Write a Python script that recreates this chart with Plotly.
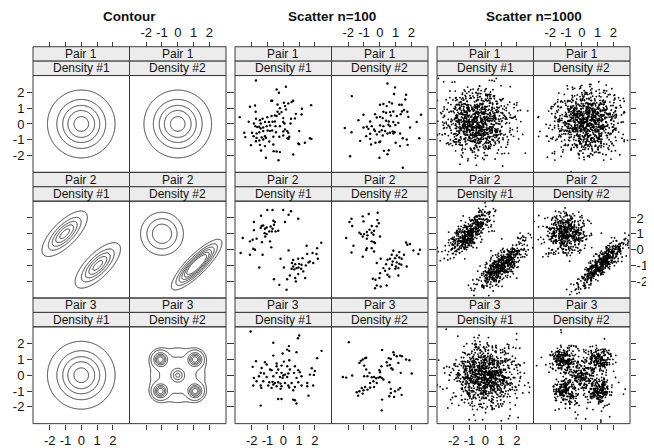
import numpy as np
import plotly.graph_objects as go

# ---------------- text ----------------
GROUP_TITLES = ["Contour", "Scatter n=100", "Scatter n=1000"]
PAIR_LABELS = ["Pair 1", "Pair 2", "Pair 3"]
DENSITY_LABELS = ["Density #1", "Density #2"]
TICK_VALUES = [-2, -1, 0, 1, 2]
TICK_LABELS = ["-2", "-1", "0", "1", "2"]
AXIS_RANGE = [-3.06, 3.06]

# ---------------- contour densities ----------------
# components: (weight, mean_x, mean_y, sd_x, sd_y, correlation)
DENS_P1_D1 = [(1.0, 0.0, 0.0, 1.0, 1.0, 0.0)]
DENS_P1_D2 = [(1.0, 0.0, 0.0, 1.0, 1.0, 0.0)]
DENS_P2_D1 = [(0.5, -1.05, 1.0, 0.67, 0.67, 0.72), (0.5, 1.05, -1.0, 0.67, 0.67, 0.72)]
DENS_P2_D2 = [(0.5, -1.0, 1.0, 0.82, 0.82, 0.0), (0.5, 1.2, -0.95, 0.78, 0.78, 0.85)]
DENS_P3_D1 = [(1.0, 0.0, 0.0, 1.0, 1.0, 0.0)]
DENS_P3_D2 = [(0.15, -1.1, 1.0, 0.25, 0.25, 0.0), (0.15, 1.1, 1.0, 0.25, 0.25, 0.0),
              (0.15, -1.1, -1.0, 0.25, 0.25, 0.0), (0.15, 1.1, -1.0, 0.25, 0.25, 0.0),
              (0.08, 0.0, 0.0, 0.25, 0.25, 0.0), (0.32, 0.0, 0.0, 0.9, 0.9, 0.0)]
# contour levels of each panel
LEVELS_P1_D1 = [0.016, 0.048, 0.080, 0.111, 0.143]
LEVELS_P1_D2 = [0.016, 0.048, 0.080, 0.111, 0.143]
LEVELS_P2_D1 = [0.0256, 0.0767, 0.128, 0.179, 0.230]
LEVELS_P2_D2 = [0.03, 0.06, 0.09, 0.12, 0.15, 0.18]
LEVELS_P3_D1 = [0.016, 0.048, 0.080, 0.111, 0.143]
LEVELS_P3_D2 = [0.01, 0.028, 0.10, 0.17, 0.24, 0.32]

# ---------------- Scatter n=100 (read point by point) ----------------
P1D1_X = [-1.73, 0.17, -0.42, -0.27, -0.76, -0.70, 0.53, 0.04, -0.36, 0.32, 0.11, 0.63, 1.77, -2.11, -1.79,
          -0.21, 0.17, 1.18, -0.36, -0.11, -0.25, -1.75, -2.76, 0.80, 1.16, -0.53, -0.42, -1.01, -0.74, -1.31,
          0.00, 0.49, 0.74, -2.19, -1.73, -1.86, -1.48, -1.43, -1.16, -0.91, -0.68, -0.53, 0.00, 0.08, 0.46,
          -1.77, -1.65, -1.52, -1.43, -1.27, -1.05, -0.84, -0.49, -0.21, 0.11, -2.47, -1.98, -1.69, -1.52, -1.27,
          -0.99, -0.84, -0.70, -0.46, 0.00, 0.25, 0.32, 1.01, -2.41, -1.88, -1.69, -1.37, -1.16, -1.10, -0.63,
          -0.25, 0.00, 0.27, 0.38, -1.52, -1.73, -1.27, -0.89, 0.34, 1.69, 1.79, -2.05, -1.48, -1.16, -0.63,
          0.95, 1.01, 1.37, -1.41, -0.61, -0.42, -0.21, 0.63, -1.10, -0.30]
P1D1_Y = [2.75, 2.35, 2.18, 1.97, 1.47, 1.47, 1.38, 1.34, 1.23, 1.30, 1.13, 1.47, 1.19, 1.09, 1.17,
          1.00, 0.92, 0.96, 0.77, 0.75, 0.64, 0.77, 0.43, 0.64, 0.60, 0.54, 0.50, 0.43, 0.50, 0.33,
          0.37, 0.33, 0.35, 0.14, 0.33, 0.03, 0.24, 0.03, 0.12, 0.12, 0.14, 0.16, 0.12, 0.03, 0.03,
          -0.14, -0.20, -0.18, -0.28, -0.22, -0.14, -0.09, -0.14, -0.14, -0.35, -0.56, -0.56, -0.60, -0.52, -0.45,
          -0.41, -0.45, -0.41, -0.52, -0.47, -0.45, -0.56, -0.45, -0.83, -0.77, -0.88, -0.85, -0.77, -0.88, -0.81,
          -0.81, -0.73, -0.90, -0.81, -1.04, -1.09, -0.98, -1.11, -0.94, -0.90, -0.94, -1.34, -1.32, -1.40, -1.30,
          -1.23, -1.28, -1.19, -1.68, -1.72, -1.74, -1.78, -1.93, -2.14, -2.29]

P1D2_X = [0.49, 0.97, -1.77, 0.91, 1.67, 0.02, 0.23, 0.61, 0.78, 0.44, 1.24, 1.39, 1.62, -1.03, -0.30,
          0.23, 0.40, 0.65, 0.86, 1.41, 1.54, 1.75, 2.62, -0.19, 0.02, 0.19, 0.70, 1.08, 1.33, 1.81,
          -1.35, -0.61, 0.40, 0.57, 0.86, 1.18, 2.34, -0.82, -0.51, 0.02, 0.23, 0.55, 0.65, 0.99, 1.92,
          -2.22, -1.03, -0.72, -0.36, -0.30, -0.02, 0.13, 0.34, 0.65, 0.82, 0.86, 0.95, -1.79, -0.61, -0.19,
          0.19, 0.49, 1.29, -1.24, -0.86, -0.61, -0.27, -0.02, 0.02, 1.46, 1.71, 2.51, -0.55, 1.01, 1.77,
          1.29, 0.57, 0.27, 0.49, -1.88, -0.02, 1.46]
P1D2_Y = [2.56, 2.31, 1.76, 1.89, 1.85, 1.21, 1.26, 1.38, 1.30, 1.13, 1.21, 1.21, 1.55, 0.58, 0.62,
          0.77, 0.71, 0.75, 0.79, 0.79, 0.88, 0.77, 0.58, 0.41, 0.45, 0.37, 0.54, 0.50, 0.62, 0.45,
          0.24, 0.16, 0.20, 0.16, 0.12, 0.07, 0.12, -0.18, -0.14, -0.09, -0.14, -0.05, -0.14, -0.07, -0.22,
          -0.26, -0.22, -0.31, -0.35, -0.45, -0.50, -0.39, -0.45, -0.56, -0.47, -0.60, -0.52, -0.52, -0.62, -0.66,
          -0.73, -0.60, -0.60, -1.07, -0.77, -0.94, -1.19, -1.15, -1.11, -0.90, -0.98, -0.90, -1.30, -1.19, -1.32,
          -1.40, -1.66, -1.70, -1.91, -2.04, -2.14, -2.77]

P2D1_X = [-1.01, -0.68, 0.00, 0.49, 0.34, -1.41, 0.95, -0.63, -0.53, -1.86, -0.59, 0.11, -1.37, -1.27, -1.05,
          -1.16, -1.43, -0.80, -0.68, -0.32, -0.72, -0.89, -0.49, -1.18, -1.05, -1.86, -2.57, -2.11, -1.94, -1.69,
          -1.35, -0.84, -1.14, -0.76, -1.90, -1.79, -2.70, -2.11, -1.31, 1.48, 2.41, 2.15, 0.34, 1.86, 1.52,
          2.11, 2.19, 1.22, 0.95, -0.17, 0.63, 1.69, 1.90, 1.60, 0.55, 0.76, 1.01, 1.16, 1.43, 0.63,
          0.84, 0.53, 0.70, 0.97, 1.14, 0.04, -1.52, 1.27, 0.95, 0.42, 0.76, -0.59, 1.39, 0.25, 0.80,
          -0.25, 0.21]
P2D1_Y = [2.50, 2.50, 2.50, 2.42, 2.20, 2.14, 1.95, 1.82, 1.74, 1.74, 1.57, 1.74, 1.49, 1.53, 1.40,
          1.32, 1.36, 1.46, 1.32, 1.19, 1.15, 1.15, 1.15, 1.04, 0.98, 1.23, 0.73, 0.52, 0.62, 0.69,
          0.47, 0.52, 0.83, 0.14, 0.05, -0.01, -0.22, -0.33, -0.33, 0.24, 0.43, 0.09, -0.05, -0.22, -0.28,
          -0.28, -0.58, -0.54, -0.58, -0.58, -0.66, -0.75, -0.85, -0.81, -0.85, -0.92, -0.90, -0.96, -1.00, -1.07,
          -1.17, -1.21, -1.25, -1.13, -1.21, -1.13, -1.13, -1.38, -1.55, -1.64, -1.80, -1.87, -1.80, -1.87, -2.01,
          -2.23, -2.54]

P2D2_X = [-0.13, -0.70, -1.08, -1.79, -1.03, -1.92, -0.15, -0.06, -1.75, -0.51, -0.19, -0.36, -0.65, -0.82, -0.99,
          -1.20, -1.29, -1.08, -0.78, -0.51, -0.40, 0.02, -2.13, -0.82, -0.51, -0.36, -0.30, -1.67, -0.82, -0.86,
          -0.51, -1.79, -0.36, -1.08, 1.67, 1.92, 1.75, 2.13, 2.55, 2.45, 0.86, 1.24, 0.76, 1.08, 0.97,
          1.24, 1.39, 1.54, 0.65, 0.49, 0.82, 1.08, 1.24, 1.37, 1.71, 1.03, 1.18, 0.99, 0.78, 0.40,
          0.06, -0.19, 0.23, 0.61, 0.34, 0.02, 0.49, 0.61, -0.02, -0.27, -0.44, -0.19, -0.30, 0.44, 0.06,
          1.18]
P2D2_Y = [2.33, 2.25, 2.10, 1.95, 1.78, 1.74, 1.87, 1.66, 1.49, 1.49, 1.47, 1.19, 1.26, 1.11, 0.98,
          0.98, 1.07, 0.83, 0.90, 1.07, 0.94, 0.83, 0.73, 0.69, 0.52, 0.47, 0.41, 0.24, 0.09, -0.03,
          0.09, -0.18, -0.12, -0.45, 0.45, 0.35, 0.31, -0.05, -0.01, -0.28, -0.07, -0.16, -0.33, -0.37, -0.54,
          -0.50, -0.58, -0.33, -0.58, -0.64, -0.75, -0.81, -0.90, -0.96, -1.07, -1.07, -1.17, -1.21, -0.96, -0.92,
          -0.58, -0.85, -1.17, -1.21, -1.34, -1.49, -1.59, -1.72, -1.80, -1.91, -1.84, -2.27, -2.44, -2.27, -2.33,
          -1.64]

P3D1_X = [-2.07, 1.01, 0.93, -0.63, 0.36, 0.25, 0.38, -0.04, -0.63, 0.84, 2.43, 2.15, -1.73, -1.16, -1.05,
          -0.42, -0.11, 0.04, 0.38, -0.42, 0.25, 0.74, -1.94, -1.37, -0.84, -0.74, -0.32, 0.42, 0.95, 1.05,
          1.81, 2.00, -1.43, -1.22, -0.42, -0.11, 0.00, 0.11, 0.32, 0.68, 1.69, -1.86, -1.54, -1.05, -0.63,
          -0.21, -0.04, 0.25, 0.84, 1.16, 1.94, -1.69, -1.27, -0.89, -0.68, -0.53, -0.32, -0.17, 0.11, 0.53,
          0.95, 1.52, -1.90, -1.43, -0.95, -0.63, -0.42, -0.11, 0.32, 0.38, 0.74, 1.16, 1.52, 1.90, -1.39,
          -0.74, -0.17, 0.63, 1.60, -0.32, -0.11, 0.63, 0.74, 0.84, -1.43]
P3D1_Y = [2.76, 2.51, 2.34, 2.05, 1.84, 1.62, 1.54, 1.37, 1.24, 1.46, 1.54, 1.08, 0.89, 0.82, 0.68,
          0.74, 0.61, 0.86, 0.95, 0.57, 0.57, 0.57, 0.53, 0.46, 0.36, 0.32, 0.36, 0.36, 0.32, 0.19,
          0.44, 0.27, 0.15, 0.11, 0.15, 0.15, -0.02, 0.04, 0.11, 0.15, 0.04, -0.17, -0.06, -0.11, -0.06,
          -0.11, -0.17, -0.11, -0.17, -0.06, 0.02, -0.38, -0.38, -0.44, -0.42, -0.49, -0.44, -0.53, -0.49, -0.49,
          -0.44, -0.49, -0.65, -0.65, -0.65, -0.59, -0.70, -0.70, -0.65, -0.78, -0.74, -0.65, -0.70, -0.65, -0.80,
          -0.80, -0.86, -0.95, -1.29, -1.50, -1.50, -1.54, -1.58, -1.79, -1.92]

P3D2_X = [-1.96, 0.15, 0.86, 0.91, 1.08, 1.29, 1.41, 0.57, 0.70, 0.44, 1.67, 1.88, -1.08, -0.93, -1.20,
          -1.29, -0.86, -0.99, 0.11, 0.49, 0.65, 0.74, 0.82, 1.18, -0.86, -0.65, -0.02, 0.02, 2.03, 1.33,
          -2.34, -2.13, -1.75, -0.99, -0.78, -0.51, -0.36, -0.23, -0.08, 0.02, 0.13, 0.23, -0.40, -0.61, -0.19,
          -0.93, -1.14, -0.78, -0.61, -1.03, -1.29, -1.46, -1.08, -1.37, -0.36, 0.61, 0.70, 0.70, 0.97, 1.18,
          1.29, 0.61, 0.91, 1.39, 0.15, 0.13]
P3D2_Y = [2.09, 1.60, 1.46, 1.29, 1.20, 1.24, 1.20, 1.08, 1.03, 0.82, 0.99, 0.95, 0.99, 1.08, 0.91,
          0.78, 1.10, 0.61, 0.57, 0.61, 0.65, 0.44, 0.36, 0.78, 0.36, 0.15, 0.32, 0.19, 0.11, 0.15,
          -0.11, -0.15, -0.02, -0.06, -0.06, -0.13, -0.11, -0.19, -0.15, -0.11, -0.17, -0.27, -0.38, -0.49, -0.49,
          -0.74, -0.80, -0.91, -0.78, -0.95, -1.01, -1.08, -1.16, -1.29, -0.74, -0.44, -0.86, -1.12, -1.01, -0.91,
          -0.80, -1.33, -1.37, -1.24, -1.54, -2.22]

# ---------------- Scatter n=1000 ----------------
# 1000 overlapping dots per panel cannot be read one by one; these clouds are
# drawn from the densities (centres / spreads).
N_LARGE = 1000
SAMPLE_P1_D1 = [(1.0, -0.45, 0.05, 1.0, 1.0, 0.0)]
SAMPLE_P1_D2 = [(1.0, 0.35, 0.1, 1.0, 1.0, 0.0)]
SAMPLE_P2_D1 = [(0.5, -1.05, 1.0, 0.7, 0.7, 0.72), (0.5, 1.05, -1.0, 0.7, 0.7, 0.72)]
SAMPLE_P2_D2 = [(0.5, -1.0, 1.0, 0.62, 0.62, 0.0), (0.5, 1.2, -0.95, 0.7, 0.7, 0.85)]
SAMPLE_P3_D1 = [(1.0, 0.0, 0.0, 1.0, 1.0, 0.0)]
SAMPLE_P3_D2 = [(0.17, -1.1, 1.0, 0.38, 0.38, 0.0), (0.17, 1.1, 1.0, 0.38, 0.38, 0.0),
                (0.17, -1.1, -1.0, 0.38, 0.38, 0.0), (0.17, 1.1, -1.0, 0.38, 0.38, 0.0),
                (0.12, 0.0, 0.0, 0.38, 0.38, 0.0), (0.2, 0.0, 0.0, 1.1, 1.1, 0.0)]


def mix_density(comps, X, Y):
    Z = np.zeros_like(X)
    for w, mx, my, sx, sy, r in comps:
        dx = (X - mx) / sx
        dy = (Y - my) / sy
        q = (dx * dx - 2 * r * dx * dy + dy * dy) / (1 - r * r)
        Z += w * np.exp(-q / 2) / (2 * np.pi * sx * sy * np.sqrt(1 - r * r))
    return Z


def sample_mix(comps, n, rng):
    w = np.array([c[0] for c in comps])
    idx = rng.choice(len(comps), size=n, p=w / w.sum())
    xs, ys = np.empty(n), np.empty(n)
    for k, (_, mx, my, sx, sy, r) in enumerate(comps):
        m = idx == k
        cov = [[sx * sx, r * sx * sy], [r * sx * sy, sy * sy]]
        pts = rng.multivariate_normal([mx, my], cov, size=m.sum())
        xs[m], ys[m] = pts[:, 0], pts[:, 1]
    return xs, ys


# ---------------- layout geometry (page pixels) ----------------
PAGE_W, PAGE_H = 654, 448
BODY_MARGIN = 8            # the html page body keeps its default 8px margin
W, H = PAGE_W - BODY_MARGIN, PAGE_H - BODY_MARGIN
GROUP_X0 = [33, 235, 437]
COL_W = 96.5
ROW_TOP = [47, 173.5, 300]
STRIP_H = 14.5
PLOT_H = 97.5
LINE_C = "#3a3a3a"
FONT = "Liberation Sans, Arial, sans-serif"


def px(x):
    return (x - BODY_MARGIN) / W


def py(y):
    return 1 - (y - BODY_MARGIN) / H


fig = go.Figure()
shapes, annotations = [], []

contour_dens = [[DENS_P1_D1, DENS_P1_D2], [DENS_P2_D1, DENS_P2_D2], [DENS_P3_D1, DENS_P3_D2]]
contour_levels = [[LEVELS_P1_D1, LEVELS_P1_D2], [LEVELS_P2_D1, LEVELS_P2_D2], [LEVELS_P3_D1, LEVELS_P3_D2]]
scatter100 = [[(P1D1_X, P1D1_Y), (P1D2_X, P1D2_Y)],
              [(P2D1_X, P2D1_Y), (P2D2_X, P2D2_Y)],
              [(P3D1_X, P3D1_Y), (P3D2_X, P3D2_Y)]]
sample_dens = [[SAMPLE_P1_D1, SAMPLE_P1_D2], [SAMPLE_P2_D1, SAMPLE_P2_D2], [SAMPLE_P3_D1, SAMPLE_P3_D2]]
rng = np.random.default_rng(7)

grid = np.linspace(AXIS_RANGE[0], AXIS_RANGE[1], 241)
GX, GY = np.meshgrid(grid, grid)

n = 0
for g in range(3):
    for r in range(3):
        for c in range(2):
            n += 1
            xa = "x" if n == 1 else f"x{n}"
            ya = "y" if n == 1 else f"y{n}"
            x0 = GROUP_X0[g] + c * COL_W
            x1 = x0 + COL_W
            top = ROW_TOP[r]
            ptop = top + 2 * STRIP_H
            pbot = ptop + PLOT_H

            if g == 0:
                Z = mix_density(contour_dens[r][c], GX, GY)
                for lv in contour_levels[r][c]:
                    fig.add_trace(go.Contour(
                        x=grid, y=grid, z=Z, xaxis=xa, yaxis=ya,
                        autocontour=False,
                        contours=dict(start=lv, end=lv, size=1, coloring="lines"),
                        colorscale=[[0, "#333333"], [1, "#333333"]],
                        line=dict(width=1), showscale=False, hoverinfo="skip"))
            elif g == 1:
                xs, ys = scatter100[r][c]
                fig.add_trace(go.Scatter(x=xs, y=ys, xaxis=xa, yaxis=ya, mode="markers",
                                         marker=dict(size=2.4, color="black"),
                                         hoverinfo="skip", showlegend=False))
            else:
                xs, ys = sample_mix(sample_dens[r][c], N_LARGE, rng)
                fig.add_trace(go.Scatter(x=xs, y=ys, xaxis=xa, yaxis=ya, mode="markers",
                                         marker=dict(size=1.8, color="black"),
                                         hoverinfo="skip", showlegend=False))

            xkey = "xaxis" if n == 1 else f"xaxis{n}"
            ykey = "yaxis" if n == 1 else f"yaxis{n}"
            common = dict(range=AXIS_RANGE, showgrid=False, zeroline=False, showline=False,
                          tickvals=TICK_VALUES, ticktext=TICK_LABELS, ticklen=5, tickwidth=1,
                          tickangle=0, ticklabeloverflow="allow",
                          tickcolor=LINE_C, tickfont=dict(size=13, family=FONT, color="#111"),
                          fixedrange=True)
            xd = dict(domain=[px(x0), px(x1)], **common)
            if r == 0:
                xd.update(side="top", anchor="free", position=py(top), ticks="outside",
                          showticklabels=(c == 1))
            elif r == 2:
                xd.update(side="bottom", anchor=ya, ticks="outside", showticklabels=(c == 0))
            else:
                xd.update(anchor=ya, ticks="", showticklabels=False)
            yd = dict(domain=[py(pbot), py(ptop)], anchor=xa, ticks="outside", **common)
            if c == 0:
                yd.update(side="left", showticklabels=(g == 0 and r != 1))
            else:
                yd.update(side="right", showticklabels=(g == 2 and r == 1), ticklabelstandoff=-2)
            fig.layout[xkey] = xd
            fig.layout[ykey] = yd

            # strips
            for s, label in enumerate([PAIR_LABELS[r], DENSITY_LABELS[c]]):
                sy0 = top + s * STRIP_H
                shapes.append(dict(type="rect", xref="paper", yref="paper",
                                   x0=px(x0), x1=px(x1), y0=py(sy0 + STRIP_H), y1=py(sy0),
                                   fillcolor="#ececec", line=dict(color=LINE_C, width=1), layer="below"))
                annotations.append(dict(text=label, xref="paper", yref="paper",
                                        x=px((x0 + x1) / 2), y=py(sy0 + STRIP_H / 2),
                                        showarrow=False, xanchor="center", yanchor="middle",
                                        font=dict(size=12, family=FONT, color="#111")))
            # panel frame
            shapes.append(dict(type="rect", xref="paper", yref="paper",
                               x0=px(x0), x1=px(x1), y0=py(pbot), y1=py(ptop),
                               fillcolor="rgba(0,0,0,0)", line=dict(color=LINE_C, width=1), layer="above"))

    annotations.append(dict(text=GROUP_TITLES[g], xref="paper", yref="paper",
                            x=px(GROUP_X0[g] + COL_W), y=py(17), showarrow=False,
                            xanchor="center", yanchor="middle",
                            font=dict(size=13.5, family=FONT, color="#111", weight="bold")))

fig.update_layout(width=W, height=H, margin=dict(l=0, r=0, t=0, b=0), autosize=False,
                  paper_bgcolor="white", plot_bgcolor="white", showlegend=False,
                  shapes=shapes, annotations=annotations)
fig.write_html("out.html")
